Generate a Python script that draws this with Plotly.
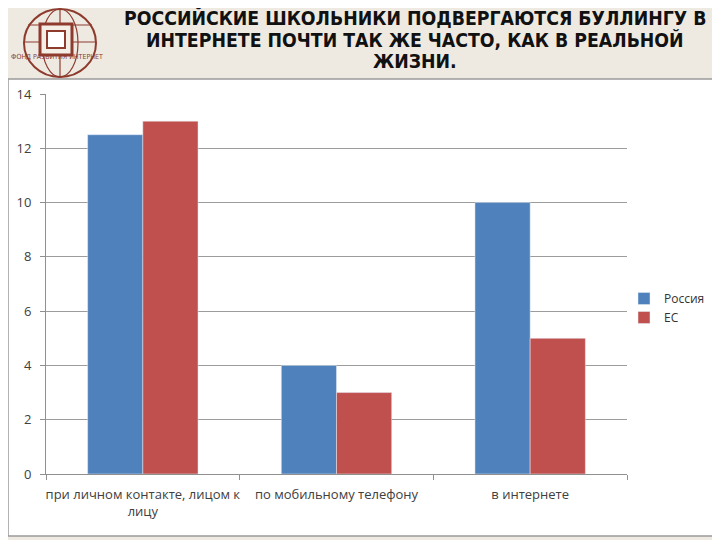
import plotly.graph_objects as go

categories = ["при личном контакте, лицом к<br>лицу", "по мобильному телефону", "в интернете"]
russia = [12.5, 4, 10]
eu = [13, 3, 5]
series_names = ["Россия", "ЕС"]
y_ticks = [0, 2, 4, 6, 8, 10, 12, 14]
title_lines = ["РОССИЙСКИЕ ШКОЛЬНИКИ ПОДВЕРГАЮТСЯ БУЛЛИНГУ В",
               "ИНТЕРНЕТЕ ПОЧТИ ТАК ЖЕ ЧАСТО, КАК В РЕАЛЬНОЙ",
               "ЖИЗНИ."]
logo_text = "ФОНД РАЗВИТИЯ ИНТЕРНЕТ"

# page body has an 8px margin; map reference pixel coordinates onto the paper
OFF = 8
W, H = 720 - OFF, 540 - OFF
def px(x): return (x - OFF) / W
def py(y): return 1 - (y - OFF) / H

fig = go.Figure()
fig.add_trace(go.Bar(x=categories, y=russia, name=series_names[0], marker_color="#4F81BD"))
fig.add_trace(go.Bar(x=categories, y=eu, name=series_names[1], marker_color="#C0504D"))

brown = "#8E3B2E"
def r(x0, y0, x1, y1, **kw):
    return dict(xref="paper", yref="paper", x0=px(x0), x1=px(x1), y0=py(y1), y1=py(y0), **kw)

shapes = [
    r(8, 79, 716, 536, type="rect", fillcolor="white", line=dict(color="#9a9a9a", width=1.5), layer="below"),
    r(24, 9, 96, 77, type="circle", line=dict(color=brown, width=2)),
    r(42, 9, 78, 77, type="circle", line=dict(color=brown, width=1.2)),
    r(60, 9, 60, 77, type="line", line=dict(color=brown, width=1.2)),
    r(28, 25, 92, 25, type="line", line=dict(color=brown, width=1.2)),
    r(25, 42, 95, 42, type="line", line=dict(color=brown, width=1.2)),
    r(40, 24, 72, 55, type="rect", fillcolor="#f3eee6", line=dict(color=brown, width=3)),
    r(47, 31, 65, 48, type="rect", fillcolor="white", line=dict(color=brown, width=2)),
]

tick_font = dict(size=13, color="#404040", family="Open Sans")

annotations = []
for i, line in enumerate(title_lines):
    annotations.append(dict(text="<b>" + line + "</b>", xref="paper", yref="paper",
                            x=px(415), y=py([18, 40, 62][i]), xanchor="center", yanchor="middle",
                            showarrow=False,
                            font=dict(family="DejaVu Sans Condensed", size=19.3, color="#111111")))
annotations.append(dict(text=logo_text, xref="paper", yref="paper", x=px(57), y=py(57),
                        xanchor="center", yanchor="middle", showarrow=False,
                        font=dict(family="DejaVu Sans Condensed", size=7, color=brown)))

fig.update_layout(
    width=W, height=H,
    margin=dict(l=0, r=0, t=0, b=0),
    paper_bgcolor="#EEEAE2",
    plot_bgcolor="rgba(0,0,0,0)",
    barmode="group",
    bargap=0.43,
    bargroupgap=0,
    shapes=shapes,
    font=dict(family="Open Sans", color="#404040"),
    legend=dict(x=px(624), y=py(284), xanchor="left", yanchor="top",
                font=dict(size=12, color="#333333"), bgcolor="rgba(0,0,0,0)",
                tracegroupgap=4, itemwidth=30),
    xaxis=dict(domain=[px(46), px(627)], showgrid=False, showline=True, linecolor="#909090",
               ticks="outside", tickson="boundaries", ticklen=5, tickcolor="#909090",
               tickangle=0, automargin=False, ticklabelstandoff=8, tickfont=tick_font),
    yaxis=dict(domain=[py(474), py(94)], range=[0, 14], tickvals=y_ticks, showgrid=True,
               gridcolor="#9c9c9c", gridwidth=1, showline=True, linecolor="#909090",
               ticks="outside", ticklen=5, tickcolor="#909090", zeroline=False,
               automargin=False, ticklabelstandoff=6, tickfont=tick_font),
    annotations=annotations,
)

fig.write_html("out.html")
